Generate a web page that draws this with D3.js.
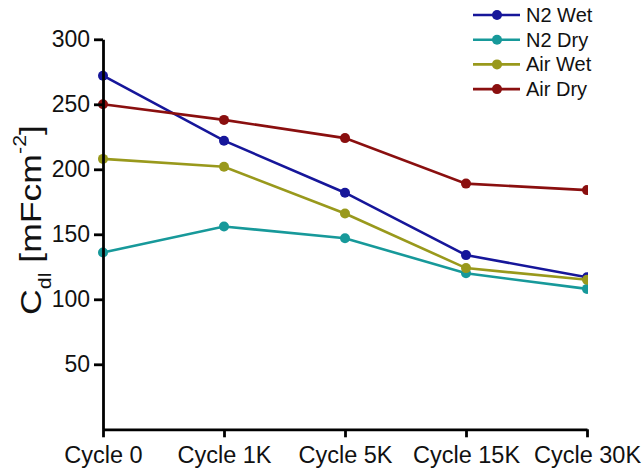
<!DOCTYPE html>
<html>
<head>
<meta charset="utf-8">
<script src="https://cdn.jsdelivr.net/npm/d3@7"></script>
<style>
  html, body { margin: 0; padding: 0; background: #fff; }
  svg { display: block; font-family: "Liberation Sans", Arial, sans-serif; }
</style>
</head>
<body>
<svg id="chart" width="644" height="471"></svg>
<script>
const categories = ["Cycle 0", "Cycle 1K", "Cycle 5K", "Cycle 15K", "Cycle 30K"];
const seriesNames = ["N2 Wet", "N2 Dry", "Air Wet", "Air Dry"];
const n2Wet  = [272, 222, 182, 134, 117];
const n2Dry  = [136, 156, 147, 120, 108];
const airWet = [208, 202, 166, 124, 115];
const airDry = [250, 238, 224, 189, 184];
const yTicks = [50, 100, 150, 200, 250, 300];
const colors = ["#16169a", "#17999a", "#99991c", "#8a0f0f"];

const seriesValues = [n2Wet, n2Dry, airWet, airDry];
const series = seriesNames.map((name, i) => ({ name, values: seriesValues[i], color: colors[i] }));

const svg = d3.select("#chart");
const x = d3.scalePoint().domain(categories).range([103, 587]).padding(0);
const y = d3.scaleLinear().domain([0, 300]).range([429.3, 39.3]);

// clip on right side of plot
svg.append("defs").append("clipPath").attr("id", "clip")
  .append("rect").attr("x", 0).attr("y", 0).attr("width", 588).attr("height", 471);

const plot = svg.append("g").attr("clip-path", "url(#clip)");
const line = d3.line().x((d, i) => x(categories[i])).y(d => y(d));

series.forEach(s => {
  plot.append("path")
    .attr("d", line(s.values))
    .attr("fill", "none")
    .attr("stroke", s.color)
    .attr("stroke-width", 2.6);
  plot.selectAll(null).data(s.values).enter().append("circle")
    .attr("cx", (d, i) => x(categories[i]))
    .attr("cy", d => y(d))
    .attr("r", 5)
    .attr("fill", s.color);
});

// axes
const yAxis = svg.append("g").attr("transform", "translate(103,0)")
  .call(d3.axisLeft(y).tickValues(yTicks).tickSize(9).tickSizeOuter(0).tickPadding(4));
const xAxis = svg.append("g").attr("transform", "translate(0,429.3)")
  .call(d3.axisBottom(x).tickSize(8).tickSizeOuter(0).tickPadding(4));

[yAxis, xAxis].forEach(a => {
  a.select(".domain").attr("stroke", "#000").attr("stroke-width", 2.8);
  a.selectAll(".tick line").attr("stroke", "#000").attr("stroke-width", 2.8);
  a.selectAll(".tick text").attr("fill", "#111");
});
yAxis.selectAll(".tick text").attr("font-size", 23).attr("font-family", "Liberation Sans, Arial, sans-serif");
xAxis.selectAll(".tick text").attr("font-size", 23.5).attr("font-family", "Liberation Sans, Arial, sans-serif")
  .attr("y", 34).attr("dy", 0);

// y title
const title = svg.append("text")
  .attr("font-size", 30)
  .attr("fill", "#111")
  .attr("text-anchor", "middle");
title.append("tspan").text("C");
title.append("tspan").attr("font-size", 18).attr("dy", 10).text("dl");
title.append("tspan").attr("dy", -10).text(" [mFcm");
title.append("tspan").attr("font-size", 18).attr("dy", -15).text("-2");
title.append("tspan").attr("dy", 15).text("]");
const natural = title.node().getComputedTextLength();
const sx = 190 / natural;
title.attr("transform", `translate(41,220) rotate(-90) scale(${sx},1)`);

// legend
const legend = svg.append("g");
series.forEach((s, i) => {
  const cy = 15 + i * 24.7;
  legend.append("line").attr("x1", 473).attr("x2", 520).attr("y1", cy).attr("y2", cy)
    .attr("stroke", s.color).attr("stroke-width", 2.6);
  legend.append("circle").attr("cx", 497).attr("cy", cy).attr("r", 5).attr("fill", s.color);
  legend.append("text").attr("x", 526).attr("y", cy + 7).attr("font-size", 20)
    .attr("fill", "#111").text(s.name);
});
</script>
</body>
</html>
